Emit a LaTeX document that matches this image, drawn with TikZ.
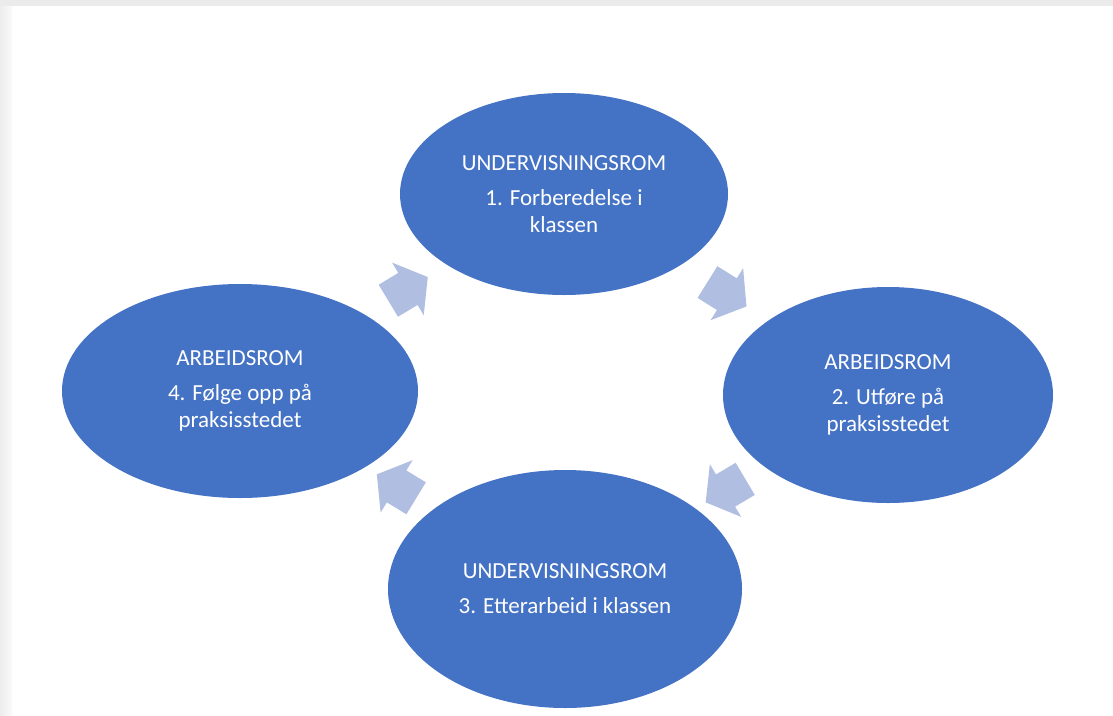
\documentclass[tikz,border=0pt]{standalone}
\usepackage{fontspec}
\setmainfont{Carlito}
\usetikzlibrary{shapes.geometric,shapes.arrows,calc}

\definecolor{romblaa}{HTML}{4472C4}
\definecolor{pilblaa}{HTML}{B0BEE1}

\tikzset{
  rom/.style={ellipse, fill=romblaa, text=white, align=center, inner sep=0pt,
    font=\fontsize{23}{27}\selectfont},
  pil/.style={single arrow, fill=pilblaa, inner xsep=0pt, inner ysep=18.5pt,
    minimum height=46pt,
    single arrow head extend=12pt, single arrow tip angle=106}
}

\begin{document}
\begin{tikzpicture}[x=1pt,y=-1pt]

\useasboundingbox (0,0) rectangle (1113,715);

% Ramme
\fill[black!8] (0,0) rectangle (1113,6);
\shade[left color=black!7, right color=black!2] (0,6) rectangle (12,715);

% Undervisningsrom
\node[rom, minimum width=328pt, minimum height=202pt] (forb) at (564,194)
{UNDERVISNINGSROM\\[8pt]1. Forberedelse i\\klassen};

\node[rom, minimum width=354pt, minimum height=238pt] (etter) at (565,589)
{UNDERVISNINGSROM\\[8pt]3. Etterarbeid i klassen};

% Arbeidsrom
\node[rom, minimum width=330pt, minimum height=216pt] (utfore) at (888,395)
{ARBEIDSROM\\[8pt]2. Utføre på\\praksisstedet};

\node[rom, minimum width=356pt, minimum height=214pt] (folge) at (240,391)
{ARBEIDSROM\\[8pt]4. Følge opp på\\praksisstedet};

% Piler
\node[pil, rotate=31] (p1) at ($(folge)!0.5!(forb)$) {};

\node[pil, rotate=-32] (p2) at ($(forb)!0.5!(utfore)+(-5,-4)$) {};

\node[pil, rotate=210.7] (p3) at ($(utfore)!0.5!(etter)+(5,-5)$) {};

\node[pil, rotate=148.6] (p4) at ($(etter)!0.5!(folge)$) {};

\end{tikzpicture}
\end{document}
